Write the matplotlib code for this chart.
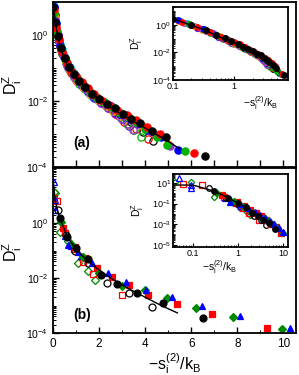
import numpy as np
import matplotlib.pyplot as plt
from matplotlib.ticker import LogLocator, NullFormatter, MultipleLocator, FixedLocator, LogFormatterSciNotation

plt.rcParams['font.family'] = ['Liberation Sans', 'DejaVu Sans']
plt.rcParams['mathtext.fontset'] = 'custom'
plt.rcParams['mathtext.rm'] = 'Liberation Sans'
plt.rcParams['mathtext.it'] = 'Liberation Sans:italic'

# ---- panel (a) data: s = -s_i^(2)/k_B, values given as log10(D_i^Z)
line_a_s = [0.0, 0.05, 0.1, 0.19, 0.3, 0.45, 0.67, 1.0, 1.4, 2.07, 2.5, 3.0, 3.5, 4.0, 4.5, 5.0, 5.5]
line_a_logD = [1.0, 0.7, 0.45, 0.0, -0.3, -0.65, -1.0, -1.3, -1.6, -2.0, -2.2, -2.42, -2.62, -2.82, -3.02, -3.22, -3.45]

a_cyan_f_s = [0.0, 0.03, 0.07, 0.12, 0.17, 0.23, 0.3, 0.37, 0.45, 0.53, 0.62, 0.72, 0.83, 0.95, 1.08, 1.22, 1.38, 1.55, 1.75, 1.95, 2.2, 2.5, 2.8]
a_cyan_f_logD = [1.0, 0.85, 0.6, 0.35, 0.12, -0.1, -0.27, -0.42, -0.58, -0.72, -0.86, -0.98, -1.1, -1.22, -1.33, -1.45, -1.57, -1.68, -1.8, -1.92, -2.05, -2.18, -2.32]
a_black_f_s = [0.02, 0.1, 0.2, 0.35, 0.5, 0.7, 0.9, 1.15, 1.4, 1.7, 2.0, 2.35, 2.7, 3.05, 3.4, 3.76, 4.3, 4.89, 6.62]
a_black_f_logD = [0.85, 0.4, -0.02, -0.4, -0.7, -0.98, -1.18, -1.38, -1.58, -1.78, -1.93, -2.1, -2.22, -2.38, -2.55, -2.68, -2.9, -3.1, -3.67]
a_red_f_s = [0.04, 0.14, 0.25, 0.4, 0.6, 0.8, 1.0, 1.25, 1.5, 1.8, 2.1, 2.45, 2.8, 3.2, 3.6, 4.1, 4.64, 6.11]
a_red_f_logD = [0.78, 0.22, -0.12, -0.5, -0.85, -1.08, -1.24, -1.42, -1.6, -1.8, -1.96, -2.12, -2.26, -2.42, -2.58, -2.8, -3.01, -3.58]
a_green_f_s = [0.06, 0.18, 0.35, 0.55, 0.8, 1.05, 1.3, 1.6, 1.9, 2.2, 2.55, 2.9, 3.25, 3.6, 4.0, 4.5, 4.93, 5.74]
a_green_f_logD = [0.68, 0.08, -0.38, -0.78, -1.08, -1.3, -1.5, -1.72, -1.9, -2.03, -2.18, -2.35, -2.5, -2.65, -2.85, -3.1, -3.33, -3.53]
a_blue_f_s = [0.03, 0.12, 0.2, 0.32, 0.5, 0.7, 0.9, 1.15, 1.4, 1.65, 1.9, 2.2, 2.5, 2.9, 3.3, 3.7, 4.1, 4.7, 5.42]
a_blue_f_logD = [0.85, 0.35, 0.0, -0.33, -0.7, -0.98, -1.18, -1.4, -1.58, -1.75, -1.9, -2.03, -2.16, -2.38, -2.53, -2.68, -2.88, -3.1, -3.48]
a_orange_f_s = [0.08, 0.22, 0.4, 0.58, 0.75, 0.98, 1.2, 1.45, 1.7, 1.95, 2.2, 2.5, 2.8, 3.05, 3.3, 3.6, 3.9, 4.4, 5.0]
a_orange_f_logD = [0.55, -0.05, -0.5, -0.82, -1.05, -1.28, -1.43, -1.62, -1.78, -1.92, -2.03, -2.17, -2.3, -2.4, -2.5, -2.62, -2.75, -2.98, -3.3]
a_purple_f_s = [0.1, 0.27, 0.45, 0.7, 0.95, 1.2, 1.45, 1.75, 2.0, 2.3, 2.6, 2.85, 3.1, 3.4, 3.7, 4.3, 5.1]
a_purple_f_logD = [0.45, -0.2, -0.6, -1.0, -1.25, -1.45, -1.63, -1.82, -1.95, -2.08, -2.22, -2.33, -2.45, -2.58, -2.7, -2.95, -3.35]

a_black_o_s = [0.07, 0.18, 0.3, 0.47, 0.65, 0.85, 1.1, 1.35, 1.6, 1.9, 2.2, 2.5, 2.8, 3.1, 3.4, 3.9, 4.35]
a_black_o_logD = [0.6, 0.05, -0.32, -0.68, -0.95, -1.18, -1.4, -1.6, -1.78, -1.95, -2.1, -2.22, -2.35, -2.5, -2.65, -2.95, -3.2]
a_red_o_s = [0.05, 0.2, 0.35, 0.55, 0.8, 1.05, 1.3, 1.6, 1.9, 2.2, 2.5, 2.8, 3.1, 3.6, 4.13]
a_red_o_logD = [0.7, 0.0, -0.45, -0.82, -1.15, -1.38, -1.55, -1.75, -1.95, -2.1, -2.25, -2.42, -2.63, -2.85, -3.16]
a_green_o_s = [0.09, 0.25, 0.4, 0.65, 0.9, 1.15, 1.4, 1.7, 2.0, 2.3, 2.6, 2.9, 3.2, 3.5, 3.8]
a_green_o_logD = [0.5, -0.18, -0.58, -1.0, -1.28, -1.48, -1.65, -1.85, -2.0, -2.15, -2.3, -2.48, -2.7, -2.88, -3.08]
a_blue_o_s = [0.03, 0.13, 0.25, 0.4, 0.55, 0.75, 1.0, 1.25, 1.5, 1.8, 2.1, 2.4, 2.7, 3.0, 3.3]
a_blue_o_logD = [0.85, 0.3, -0.2, -0.55, -0.85, -1.1, -1.35, -1.55, -1.72, -1.9, -2.05, -2.2, -2.35, -2.55, -2.75]
a_orange_o_s = [0.12, 0.3, 0.5, 0.75, 1.0, 1.3, 1.6, 1.95, 2.3, 2.6, 2.9, 3.3]
a_orange_o_logD = [0.3, -0.35, -0.75, -1.1, -1.35, -1.58, -1.8, -1.98, -2.15, -2.3, -2.45, -2.72]
a_purple_o_s = [0.15, 0.35, 0.6, 0.9, 1.2, 1.5, 1.8, 2.1, 2.4, 2.7, 3.0, 3.25, 3.47]
a_purple_o_logD = [0.15, -0.45, -0.95, -1.28, -1.5, -1.7, -1.88, -2.05, -2.2, -2.38, -2.55, -2.7, -2.88]

# ---- panel (b) data
line_b_s = [0.0, 0.1, 0.25, 0.45, 0.7, 1.0, 1.4, 1.9, 2.5, 3.2, 4.0, 4.7, 5.4]
line_b_logD = [1.6, 0.8, 0.3, -0.15, -0.6, -0.95, -1.3, -1.65, -2.0, -2.35, -2.7, -3.0, -3.27]

b_black_f_s = [0.3, 0.6, 1.0, 1.5, 2.1, 2.77, 3.64, 4.79, 6.53]
b_black_f_logD = [0.18, -0.5, -0.9, -1.3, -1.89, -2.23, -2.56, -2.91, -3.45]
b_black_o_s = [0.23, 0.55, 0.95, 1.5, 2.33, 3.3, 4.3]
b_black_o_logD = [0.48, -0.45, -1.0, -1.45, -2.19, -2.55, -3.05]
b_red_f_s = [0.45, 0.96, 1.39, 1.9, 2.55, 3.32, 4.14, 5.38, 6.9, 9.29]
b_red_f_logD = [-0.18, -0.86, -1.28, -1.65, -1.95, -2.25, -2.62, -2.95, -3.3, -3.82]
b_red_o_s = [0.06, 0.16, 0.5, 0.9, 1.3, 1.75, 2.99]
b_red_o_logD = [0.9, 0.79, -0.35, -0.95, -1.4, -1.87, -2.62]
b_green_f_s = [0.35, 0.8, 1.3, 2.0, 3.0, 4.0, 4.94, 6.22, 7.83, 9.94]
b_green_f_logD = [0.05, -0.75, -1.25, -1.8, -2.3, -2.42, -2.73, -3.08, -3.4, -3.85]
b_green_o_s = [0.04, 0.09, 0.3, 0.67, 1.1, 1.5, 1.83]
b_green_o_logD = [1.13, 1.09, -0.33, -0.67, -1.47, -1.75, -2.07]
b_blue_f_s = [0.67, 1.1, 1.68, 2.4, 3.17, 4.04, 5.16, 6.46, 8.13, 10.3]
b_blue_f_logD = [-0.8, -1.04, -1.47, -1.83, -2.13, -2.44, -2.69, -3.0, -3.37, -3.8]
b_blue_o_s = [0.05, 0.09, 0.09, 0.52, 0.8, 1.2]
b_blue_o_logD = [1.5, 0.85, 0.48, -0.48, -0.85, -1.2]

CYAN, BLACK, RED, GREEN, BLUE, ORANGE, PURPLE = '#00e0e0', 'black', '#ff0000', '#00b400', '#0000ff', '#ff9900', '#9a32cd'
DKGREEN = '#008a00'

series_a = [
    (a_cyan_f_s, a_cyan_f_logD, 'o', CYAN, True),
    (a_black_o_s, a_black_o_logD, 'o', BLACK, False),
    (a_red_o_s, a_red_o_logD, 'o', RED, False),
    (a_green_o_s, a_green_o_logD, 'o', GREEN, False),
    (a_blue_o_s, a_blue_o_logD, 'o', BLUE, False),
    (a_orange_o_s, a_orange_o_logD, 'o', ORANGE, False),
    (a_purple_o_s, a_purple_o_logD, 'o', PURPLE, False),
    (a_orange_f_s, a_orange_f_logD, 'o', ORANGE, True),
    (a_purple_f_s, a_purple_f_logD, 'o', PURPLE, True),
    (a_blue_f_s, a_blue_f_logD, 'o', BLUE, True),
    (a_green_f_s, a_green_f_logD, 'o', GREEN, True),
    (a_red_f_s, a_red_f_logD, 'o', RED, True),
    (a_black_f_s, a_black_f_logD, 'o', BLACK, True),
]
series_b = [
    (b_green_o_s, b_green_o_logD, 'D', DKGREEN, False),
    (b_red_o_s, b_red_o_logD, 's', RED, False),
    (b_blue_o_s, b_blue_o_logD, '^', BLUE, False),
    (b_black_o_s, b_black_o_logD, 'o', BLACK, False),
    (b_red_f_s, b_red_f_logD, 's', RED, True),
    (b_green_f_s, b_green_f_logD, 'D', DKGREEN, True),
    (b_blue_f_s, b_blue_f_logD, '^', BLUE, True),
    (b_black_f_s, b_black_f_logD, 'o', BLACK, True),
]

XLAB = r'$\mathregular{-s_i^{(2)}/k_B}$'
YLAB = r'$\mathregular{D_i^Z}$'


def draw_series(ax, series, line_s, line_logD, ms):
    for s, logD, mk, col, filled in series:
        size = ms * 0.8 if mk == 'D' else ms
        ax.plot(s, 10.0 ** np.array(logD), linestyle='none', marker=mk, ms=size,
                mfc=col if filled else 'none', mec=col, mew=0.9)
    ax.plot(line_s, 10.0 ** np.array(line_logD), color='black', lw=1.0, zorder=5)


def style_log_y(ax, majors):
    ax.set_yscale('log')
    ax.yaxis.set_major_locator(FixedLocator(majors))
    ax.yaxis.set_major_formatter(LogFormatterSciNotation())
    ax.yaxis.set_minor_locator(LogLocator(base=10.0, subs=np.arange(1, 10), numticks=50))
    ax.yaxis.set_minor_formatter(NullFormatter())
    ax.tick_params(which='both', direction='in')
    for sp in ax.spines.values():
        sp.set_linewidth(1.3)


def style_inset_x(ax, lo, hi):
    ax.set_xscale('log')
    ax.set_xlim(lo, hi)
    ax.xaxis.set_major_locator(FixedLocator([0.1, 1.0, 10.0]))
    ax.xaxis.set_major_formatter(plt.FuncFormatter(lambda v, p: {0.1: '0.1', 1.0: '1', 10.0: '10'}.get(round(v, 3), '')))
    ax.xaxis.set_minor_formatter(NullFormatter())
    ax.tick_params(labelsize=6.5, length=3, pad=1.5)
    ax.tick_params(which='minor', length=1.6, width=0.6)


fig = plt.figure(figsize=(2.99, 3.75), dpi=100)

# ---------- panel (a)
ax_a = fig.add_axes([53 / 299, 1 - 167 / 375, 243 / 299, 165 / 375])
draw_series(ax_a, series_a, line_a_s, line_a_logD, 5.2)
style_log_y(ax_a, [1e-4, 1e-2, 1.0])
ax_a.set_xlim(0, 10.55)
ax_a.set_ylim(1e-4, 10)
ax_a.xaxis.set_major_locator(MultipleLocator(1))
ax_a.tick_params(axis='x', labelbottom=False)
ax_a.tick_params(axis='y', labelsize=7.5, length=4, width=1)
ax_a.tick_params(axis='x', length=5, width=1)
ax_a.tick_params(which='minor', length=2.5, width=0.7)
ax_a.set_ylabel(YLAB, fontsize=11.5)
ax_a.yaxis.set_label_coords(-0.12, 0.5)
ax_a.text(0.12, 0.145, '(a)', transform=ax_a.transAxes, fontsize=10, fontweight='bold', ha='center', va='center')

# inset (a)
ins_a = fig.add_axes([173 / 299, 1 - 80 / 375, 115 / 299, 73 / 375])
draw_series(ins_a, series_a, line_a_s, line_a_logD, 4.0)
style_log_y(ins_a, [1e-4, 1e-2, 1.0])
style_inset_x(ins_a, 0.1, 7.6)
ins_a.set_ylim(1e-4, 20)
fig.text(261 / 299, 1 - 103 / 375, XLAB, fontsize=7.5, ha='center', va='center')
fig.text(137 / 299, 1 - 43 / 375, YLAB, fontsize=7.5, ha='center', va='center', rotation=90)

# ---------- panel (b)
ax_b = fig.add_axes([53 / 299, 1 - 333 / 375, 243 / 299, 165 / 375])
draw_series(ax_b, series_b, line_b_s, line_b_logD, 5.0)
style_log_y(ax_b, [1e-4, 1e-2, 1.0])
ax_b.set_xlim(0, 10.55)
ax_b.set_ylim(1e-4, 100)
ax_b.xaxis.set_major_locator(MultipleLocator(2))
ax_b.xaxis.set_minor_locator(MultipleLocator(1))
ax_b.tick_params(axis='y', labelsize=7.5, length=4, width=1)
ax_b.tick_params(axis='x', labelsize=8.5, length=4, width=1)
ax_b.tick_params(which='minor', length=2.5, width=0.7)
ax_b.set_ylabel(YLAB, fontsize=11.5)
ax_b.yaxis.set_label_coords(-0.12, 0.49)
ax_b.set_xlabel(XLAB, fontsize=11.5, labelpad=1)
ax_b.text(0.12, 0.11, '(b)', transform=ax_b.transAxes, fontsize=10, fontweight='bold', ha='center', va='center')

# inset (b)
ins_b = fig.add_axes([173 / 299, 1 - 247 / 375, 115 / 299, 73 / 375])
draw_series(ins_b, series_b, line_b_s, line_b_logD, 4.0)
style_log_y(ins_b, [1e-5, 1e-3, 1e-1, 1e1])
style_inset_x(ins_b, 0.036, 13)
ins_b.set_ylim(6e-6, 75)
fig.text(220 / 299, 1 - 267 / 375, XLAB, fontsize=7.5, ha='center', va='center')
fig.text(138 / 299, 1 - 210 / 375, YLAB, fontsize=7.5, ha='center', va='center', rotation=90)

fig.savefig('out.png', dpi=100)
